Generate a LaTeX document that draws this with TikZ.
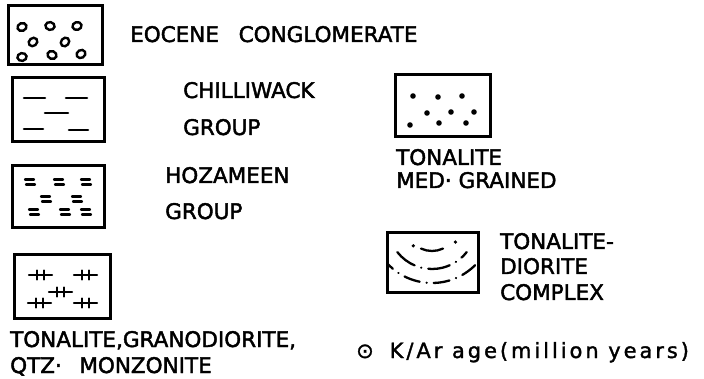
\documentclass[tikz,border=0pt]{standalone}
\usepackage{fontspec}
\setmainfont{DejaVu Sans}
\newfontfamily\legfam{DejaVu Sans}[FakeBold=2]
\newfontfamily\agefam{DejaVu Sans}[FakeBold=1.5, LetterSpace=14]
\usepackage{tikz}
\usetikzlibrary{
    positioning,
    calc
}
\newcommand{\legfont}{\legfam\fontsize{21.5}{25}\selectfont}
\newcommand{\agefont}{\agefam\fontsize{21}{24}\selectfont}
\tikzset{
    legbox/.style={
        rectangle,
        draw=black,
        line width=3pt,
        inner sep=0pt
    },
    legtext/.style={
        font=\legfont,
        anchor=base west,
        inner sep=0pt
    },
    symline/.style={
        line width=2.3pt,
        line cap=round
    }
}

\begin{document}
\begin{tikzpicture}[x=1pt, y=-1pt]
        \useasboundingbox (0,0) rectangle (704,379);

        % Legend boxes
        \node[legbox, minimum width=94pt, minimum height=59pt] (congl) at (55,35.5) {};
        \node[legbox, minimum width=92pt, minimum height=64pt] (chilli) at (58,110) {};
        \node[legbox, minimum width=92pt, minimum height=62pt] (hoza) at (58,197) {};
        \node[legbox, minimum width=96pt, minimum height=63pt] (grano) at (62,286.5) {};
        \node[legbox, minimum width=95pt, minimum height=62pt] (medgr) at (442.5,106) {};
        \node[legbox, minimum width=91pt, minimum height=60pt] (cplx) at (432.5,263) {};

        % Conglomerate pebbles
        \foreach \px/\py/\rot in {22/27/20, 50/26/-10, 77/26/15, 33/42/40,
                                  65/42/50, 22/57/10, 52/55/-20, 81/54/30} {
            \draw[symline, line width=2.4pt, rotate around={\rot:(\px,\py)}]
                (\px,\py) ellipse (4.6 and 3.9);
        }

        % Chilliwack dashes
        \foreach \xa/\xb/\py in {24/45/98, 66/87/98, 45/68/113, 24/43/129, 69/88/130} {
            \draw[symline, line width=2.6pt] (\xa,\py) -- (\xb,\py);
        }

        % Hozameen ticks
        \foreach \px/\py in {30/182, 59/182, 86/182, 46/199, 77/199,
                             34/212, 65/212, 86/212} {
            \draw[symline] (\px-5,\py-2.5) -- (\px+4,\py-2.5);
            \draw[symline] (\px-4,\py+2.5) -- (\px+5,\py+2.5);
        }

        % Granodiorite crosses
        \foreach \px/\py in {40/275, 85/275, 60/292, 39/303, 85/303} {
            \draw[symline] (\px-11,\py) -- (\px+12,\py);
            \draw[symline] (\px-3,\py-4.5) -- (\px-3,\py+4.5);
            \draw[symline] (\px+4,\py-4.5) -- (\px+4,\py+4.5);
        }

        % Medium grained dots
        \foreach \px/\py in {413/96, 438/97, 462/96, 427/113, 451/112,
                             474/112, 410/125, 439/123, 466/123} {
            \fill (\px,\py) circle (2.8);
        }

        % Complex arcs
        \begin{scope}
            \clip ($(cplx.north west)+(2,2)$) rectangle ($(cplx.south east)+(-2,-2)$);
            \draw[symline] (432,225) ++(65:26) arc (65:115:26);
            \fill (432,225) ++(36:29) circle (1.8);
            \fill (432,225) ++(132:28) circle (1.8);
            \draw[symline, dash pattern=on 22pt off 7pt on 0.1pt off 7pt]
                (432,225) ++(142:44) arc (142:38:44);
            \draw[symline, dash pattern=on 16pt off 7pt on 0.1pt off 7pt]
                (432,222) ++(145:61) arc (145:35:61);
        \end{scope}

        % Legend labels
        \node[legtext] (t-congl) at (130,42) {EOCENE\hspace{0.6em} CONGLOMERATE};
        \node[legtext] (t-chilli) at (183,98) {CHILLIWACK};
        \node[legtext] (t-chilli2) at (183,135) {GROUP};
        \node[legtext] (t-hoza) at (165,183) {HOZAMEEN};
        \node[legtext] (t-hoza2) at (165,219) {GROUP};
        \node[legtext] (t-medgr) at (396,165) {TONALITE};
        \node[legtext] (t-medgr2) at (396,188) {MED· GRAINED};
        \node[legtext] (t-cplx) at (500,249) {TONALITE-};
        \node[legtext] (t-cplx2) at (500,274) {DIORITE};
        \node[legtext] (t-cplx3) at (500,300) {COMPLEX};
        \node[legtext] (t-grano) at (10,347) {TONALITE,GRANODIORITE,};
        \node[legtext] (t-grano2) at (10,373) {QTZ·\hspace{0.5em} MONZONITE};
        \node[legtext, font=\agefont] (t-age) at (356,358) {⊙\hspace{0.3em} K/Ar age(million years)};
    \end{tikzpicture}
\end{document}
